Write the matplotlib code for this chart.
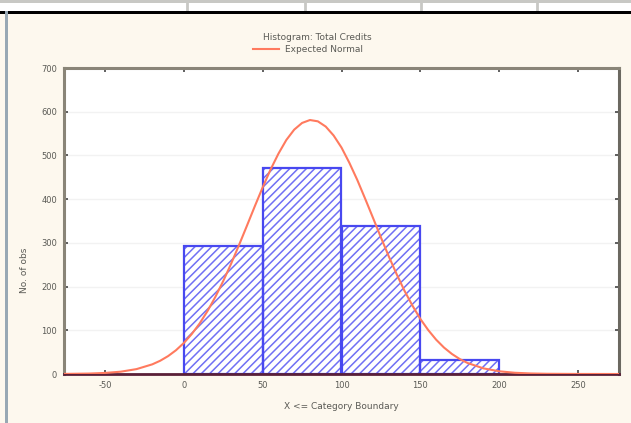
import matplotlib
matplotlib.use("Agg")
import matplotlib.pyplot as plt
from matplotlib.patches import Rectangle
from matplotlib.lines import Line2D

# histogram of total credits, bin width 50
bin_left = [0, 50, 100, 150]
bin_width = 50
counts = [293, 472, 339, 31]

# expected normal curve
curve_x = [-76, -60, -50, -40, -30, -20, -15, -10, -5, 0, 5, 10, 15, 20, 25, 30,
           35, 40, 45, 50, 55, 60, 65, 70, 75, 80, 85, 90, 95, 100, 105, 110,
           115, 120, 125, 130, 135, 140, 145, 150, 155, 160, 165, 170, 175, 180,
           190, 200, 210, 220, 230, 250, 276]
curve_y = [0.2, 1.0, 2.4, 5.3, 11.2, 22.1, 30.3, 40.9, 54.3, 70.9, 91.3, 115.5,
           143.9, 176.4, 212.7, 252.4, 294.9, 339, 383.6, 427, 467.7, 504, 535.3,
           559, 574.3, 581, 578, 566, 545.6, 518, 483, 444, 401, 357, 312.4, 269,
           228.2, 190, 156.4, 126, 100.5, 78.6, 60.5, 45.9, 34.2, 25.1, 12.9, 6.2,
           2.8, 1.2, 0.5, 0.1, 0]

xticks = [-50, 0, 50, 100, 150, 200, 250]
yticks = [0, 100, 200, 300, 400, 500, 600, 700]

bg = "#fdf8ee"
txt = "#5a5a55"

fig = plt.figure(figsize=(6.31, 4.23), dpi=100)
fig.patch.set_facecolor(bg)

# window chrome: strip along the top and bar on the left
fig.patches.append(Rectangle((0, 1 - 14/423), 1, 14/423, transform=fig.transFigure,
                             facecolor="white", edgecolor="none", zorder=0))
fig.patches.append(Rectangle((0, 1 - 3/423), 1, 3/423, transform=fig.transFigure,
                             facecolor="#c8c8c4", edgecolor="none", zorder=1))
fig.patches.append(Rectangle((0, 1 - 14/423), 1, 3/423, transform=fig.transFigure,
                             facecolor="black", edgecolor="none", zorder=2))
for xp in [187, 305, 421, 537]:
    fig.lines.append(Line2D([xp/631, xp/631], [1 - 11/423, 1 - 3/423],
                            transform=fig.transFigure, color="#c8c8c4", lw=2))
fig.patches.append(Rectangle((5/631, 0), 3/631, 1 - 11/423, transform=fig.transFigure,
                             facecolor="#98a8b4", edgecolor="none", zorder=3))

ax = fig.add_axes([64/631, 49/423, 555/631, 306/423])
ax.set_facecolor("white")

# hatch fill first, then the bar outlines on top
plt.rcParams['hatch.linewidth'] = 1.1
ax.bar(bin_left, counts, width=bin_width, align="edge", facecolor="white",
       edgecolor="#7070f4", hatch="////", linewidth=0, zorder=2)
ax.bar(bin_left, counts, width=bin_width, align="edge", facecolor="none",
       edgecolor="#4848f0", linewidth=1.6, zorder=2)
ax.plot(curve_x, curve_y, color="#ff7a5e", lw=1.5, zorder=3)

ax.set_xlim(-76, 276)
ax.set_ylim(0, 700)
ax.set_xticks(xticks)
ax.set_yticks(yticks)
ax.set_xticklabels([str(v) for v in xticks])
ax.grid(axis="y", color="#f2f2f2", lw=1)
ax.set_axisbelow(True)
ax.tick_params(axis="both", direction="in", length=3, width=1.2, color="#444",
               labelsize=6, labelcolor=txt, top=True, right=True, pad=5)

for side in ["left", "top"]:
    ax.spines[side].set_color("#8a8578")
    ax.spines[side].set_linewidth(2.2)
ax.spines["right"].set_color("#6b6860")
ax.spines["right"].set_linewidth(2.2)
ax.spines["bottom"].set_color("#5a2038")
ax.spines["bottom"].set_linewidth(2)

ax.set_xlabel("X <= Category Boundary", fontsize=6.5, color=txt, labelpad=9)
ax.set_ylabel("No. of obs", fontsize=6.5, color=txt, labelpad=4)
ax.yaxis.set_label_coords(-0.063, 0.34)

fig.text(0.503, 1 - 38/423, "Histogram: Total Credits", ha="center", va="center",
         fontsize=6.5, color=txt)
fig.lines.append(Line2D([253/631, 279/631], [1 - 49/423, 1 - 49/423],
                        transform=fig.transFigure, color="#ff7a5e", lw=1.5))
fig.text(285/631, 1 - 49/423, "Expected Normal", ha="left", va="center",
         fontsize=6.5, color=txt)

fig.savefig("out.png", dpi=100, facecolor=fig.get_facecolor())
